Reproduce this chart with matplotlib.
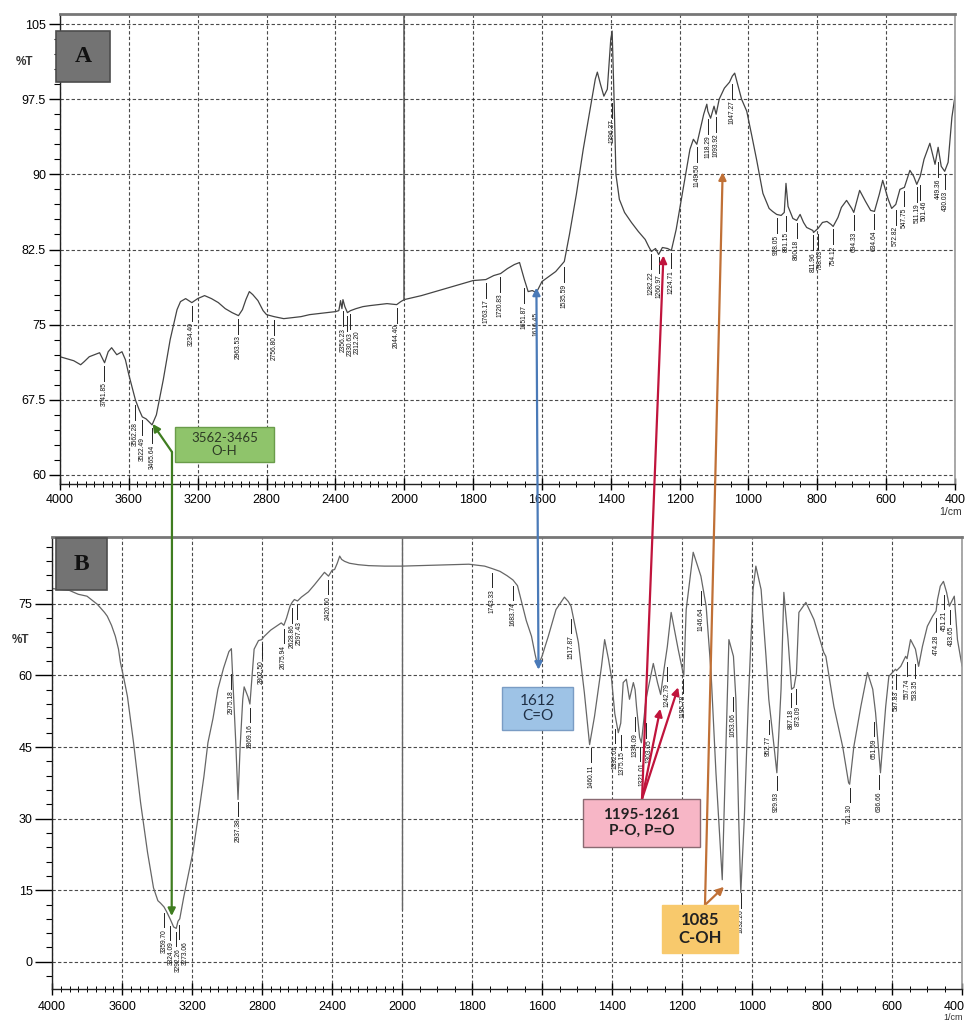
import numpy as np
import matplotlib.pyplot as plt
from matplotlib.patches import ConnectionPatch, Rectangle
from matplotlib.ticker import FixedLocator, FormatStrFormatter
from matplotlib.transforms import ScaledTranslation

plt.rcParams['font.family'] = ['Liberation Sans', 'DejaVu Sans']

W, H = 969, 1023

# ---- spectrum A (wavenumber 1/cm, %T) ----
wn_a = [4000, 3960, 3920, 3880, 3860, 3830, 3800, 3770, 3741, 3720, 3700, 3670, 3640, 3620,
        3600, 3562, 3540, 3522, 3500, 3465, 3440, 3400, 3360, 3320, 3300, 3270, 3234, 3200,
        3160, 3120, 3080, 3040, 3000, 2963, 2940, 2920, 2900, 2880, 2850, 2820, 2800, 2756,
        2700, 2650, 2600, 2550, 2500, 2450, 2400, 2380, 2370, 2362, 2356, 2345, 2330, 2312,
        2280, 2240, 2200, 2150, 2100, 2044, 2020, 2000, 1950, 1900, 1850, 1800, 1763, 1740,
        1720, 1700, 1680, 1665, 1651, 1640, 1628, 1616, 1600, 1580, 1560, 1535, 1520, 1500,
        1480, 1460, 1445, 1439, 1430, 1420, 1410, 1400, 1396, 1390, 1385, 1375, 1360, 1340,
        1320, 1300, 1290, 1282, 1270, 1261, 1250, 1235, 1224, 1210, 1195, 1180, 1170, 1160,
        1150, 1140, 1130, 1121, 1118, 1110, 1100, 1094, 1085, 1070, 1055, 1047, 1040, 1030,
        1020, 1005, 990, 976, 958, 940, 930, 918, 905, 896, 891, 885, 871, 860, 850, 840,
        831, 813, 811, 798, 785, 772, 760, 754, 740, 730, 715, 700, 694, 680, 677, 660, 645,
        634, 620, 610, 595, 584, 572, 560, 547, 531, 520, 511, 501, 490, 473, 458, 449, 440,
        430, 420, 409, 400]
t_a = [71.8, 71.6, 71.4, 71.0, 71.3, 71.8, 72.0, 72.2, 71.2, 72.3, 72.7, 72.0, 72.3, 71.5,
       70.0, 67.5, 66.5, 65.8, 65.6, 65.0, 66.0, 69.5, 73.5, 76.5, 77.3, 77.6, 77.2, 77.6,
       77.9, 77.6, 77.2, 76.6, 76.2, 75.9, 76.5, 77.5, 78.3, 78.0, 77.4, 76.4, 76.0, 75.8,
       75.6, 75.7, 75.8, 76.0, 76.1, 76.2, 76.3, 76.4, 77.4, 76.6, 77.5, 76.8, 76.2, 76.4,
       76.6, 76.8, 76.9, 77.0, 77.1, 77.0, 77.3, 77.5, 77.9, 78.4, 78.9, 79.4, 79.5, 79.9,
       80.1, 80.6, 81.0, 81.2, 79.5, 78.3, 78.4, 78.2, 79.3, 79.8, 80.3, 81.3, 84.0, 88.0,
       92.5, 96.5, 99.5, 100.2, 99.0, 97.8, 98.5, 103.5, 104.3, 97.0, 90.0, 87.5, 86.2, 85.2,
       84.3, 83.5, 82.8, 82.3, 82.6, 82.0, 82.7, 82.6, 82.4, 84.5, 87.5, 90.5, 92.5, 93.5,
       93.0, 94.5, 96.0, 97.0, 96.3, 95.6, 96.8, 96.0, 97.5, 98.6, 99.2, 99.8, 100.1, 98.8,
       97.5, 96.3, 93.8, 91.4, 88.1, 86.6, 86.3, 86.0, 85.9, 86.2, 89.1, 86.8, 85.6, 85.4,
       86.0, 85.2, 84.7, 84.4, 84.2, 84.6, 85.2, 85.3, 85.0, 84.8, 85.7, 86.7, 87.4, 86.6,
       86.2, 88.0, 88.4, 87.3, 86.4, 86.3, 88.0, 89.4, 87.6, 86.6, 87.0, 88.5, 88.7, 90.4,
       89.8, 89.0, 89.8, 91.5, 93.1, 91.0, 92.7, 90.8, 90.3, 91.2, 95.7, 97.8]
peaks_a = ['3741.85', '3562.28', '3522.49', '3465.64', '3234.40', '2963.53', '2756.80',
           '2356.23', '2330.63', '2312.20', '2044.40', '1763.17', '1720.83', '1651.87',
           '1616.45', '1535.59', '1396.37', '1282.22', '1260.97', '1224.71', '1149.50',
           '1118.29', '1093.92', '1047.27', '918.05', '891.15', '860.18', '811.96', '798.63',
           '754.12', '694.33', '634.64', '572.82', '547.75', '511.19', '501.46', '449.36',
           '430.03']

# ---- spectrum B ----
wn_b = [4000, 3950, 3900, 3850, 3800, 3741, 3700, 3684, 3660, 3638, 3620, 3609, 3590, 3569,
        3534, 3494, 3454, 3420, 3395, 3380, 3360, 3345, 3324, 3305, 3290, 3280, 3270, 3247,
        3195, 3161, 3132, 3109, 3080, 3052, 3020, 2989, 2975, 2966, 2950, 2937, 2925, 2910,
        2902, 2880, 2869, 2845, 2820, 2802, 2787, 2750, 2718, 2690, 2675, 2660, 2640, 2628,
        2615, 2597, 2575, 2535, 2500, 2443, 2420, 2400, 2385, 2370, 2356, 2345, 2328, 2300,
        2250, 2190, 2100, 2000, 1900, 1809, 1764, 1743, 1720, 1700, 1683, 1670, 1658, 1645,
        1630, 1620, 1612, 1600, 1582, 1560, 1536, 1525, 1517, 1496, 1479, 1464, 1450, 1430,
        1421, 1410, 1402, 1396, 1392, 1382, 1375, 1368, 1359, 1350, 1339, 1334, 1330, 1321,
        1316, 1303, 1282, 1270, 1261, 1250, 1242, 1231, 1211, 1195, 1188, 1168, 1160, 1146,
        1131, 1117, 1103, 1085, 1074, 1066, 1053, 1046, 1038, 1032, 1022, 1011, 997, 989,
        974, 960, 952, 937, 929, 917, 909, 897, 887, 880, 873, 866, 846, 823, 795, 789, 766,
        741, 724, 721, 709, 689, 670, 655, 647, 640, 633, 618, 609, 590, 587, 575, 561, 557,
        547, 533, 524, 513, 499, 484, 474, 470, 462, 453, 444, 436, 433, 422, 413, 400]
t_b = [78.2, 78.0, 77.8, 77.0, 76.6, 74.9, 73.2, 72.4, 70.5, 68.2, 65.5, 62.7, 59.5, 55.6,
       45.9, 33.4, 22.9, 15.5, 12.8, 12.3, 11.5, 10.5, 8.9, 7.3, 7.0, 8.5, 9.0, 13.6,
       22.9, 31.3, 38.8, 45.9, 51.0, 57.1, 61.5, 65.0, 65.6, 58.5, 46.0, 34.0, 45.0, 55.0,
       57.6, 55.5, 54.0, 65.5, 67.3, 67.5, 68.2, 69.5, 70.3, 71.0, 70.5, 72.0, 74.5, 75.3,
       75.9, 75.6, 76.4, 77.5, 79.0, 81.6, 80.8, 82.0, 82.2, 83.5, 85.0, 84.3, 83.9, 83.5,
       83.2, 83.0, 82.9, 82.9, 83.1, 83.3, 82.9, 82.4, 81.8, 80.9, 80.0, 78.8, 75.3, 71.5,
       68.2, 64.5, 61.9, 64.0, 68.2, 73.8, 76.4, 75.5, 74.5, 66.9, 56.4, 45.5, 51.4, 61.9,
       67.5, 63.4, 59.8, 55.0, 52.0, 48.0, 50.0, 58.5, 59.2, 55.0, 58.5, 57.0, 53.5, 47.0,
       45.9, 55.0, 62.5, 58.5, 56.0, 62.0, 66.0, 73.2, 65.5, 59.8, 73.8, 85.8, 84.0, 80.8,
       74.5, 60.6, 39.6, 17.2, 46.6, 67.5, 64.0, 55.0, 30.0, 14.5, 30.0, 53.5, 78.0, 82.9,
       78.0, 64.0, 55.0, 45.1, 39.6, 57.1, 77.4, 67.5, 57.1, 57.5, 60.5, 73.2, 75.3, 71.7,
       64.8, 64.0, 53.5, 45.1, 37.5, 37.2, 45.1, 53.5, 60.6, 57.1, 52.2, 46.0, 39.6, 53.5,
       59.8, 61.3, 61.0, 61.9, 64.0, 63.5, 67.5, 65.5, 61.9, 66.1, 70.3, 72.4, 73.5, 75.9,
       78.7, 79.7, 77.4, 74.5, 75.0, 76.6, 67.5, 62.0]
peaks_b = ['3359.70', '3324.09', '3292.26', '3273.06', '2975.18', '2937.38', '2869.16',
           '2802.50', '2675.94', '2628.86', '2597.43', '2420.50', '1743.33', '1683.74',
           '1517.87', '1460.11', '1392.01', '1375.15', '1334.09', '1321.01', '1303.05',
           '1242.79', '1195.78', '1146.64', '1053.06', '1032.26', '952.77', '929.93',
           '887.18', '873.09', '721.30', '651.69', '636.66', '587.83', '557.74', '533.35',
           '474.28', '451.21', '433.65']

x_ticks = [4000, 3600, 3200, 2800, 2400, 2000, 1800, 1600, 1400, 1200, 1000, 800, 600, 400]
y_ticks_a = [60, 67.5, 75, 82.5, 90, 97.5, 105]
y_ticks_b = [0, 15, 30, 45, 60, 75]


# wavenumbers below 2000 get twice the width of those above it
def fwd(w):
    w = np.asarray(w, dtype=float)
    return np.where(w > 2000, 2000 + (w - 2000) / 2, w)


def inv(u):
    u = np.asarray(u, dtype=float)
    return np.where(u > 2000, 2000 + (u - 2000) * 2, u)


def px(x, y):
    return x / W, 1 - y / H


fig = plt.figure(figsize=(W / 100, H / 100), dpi=100)
ax_a = fig.add_axes([60 / W, (H - 484) / H, 895 / W, 470 / H])
ax_b = fig.add_axes([52 / W, (H - 989) / H, 910 / W, 452 / H])


def setup(ax, ylim, yticks, ymin_step, tick_len, xpad):
    ax.set_xscale('function', functions=(fwd, inv))
    ax.set_xlim(4000, 400)
    ax.set_ylim(*ylim)
    ax.xaxis.set_major_locator(FixedLocator(x_ticks))
    ax.xaxis.set_minor_locator(FixedLocator(np.arange(400, 4001, 50)))
    ax.yaxis.set_major_locator(FixedLocator(yticks))
    ax.yaxis.set_minor_locator(FixedLocator(np.arange(yticks[0] - 6 * ymin_step,
                                                      ylim[1], ymin_step)))
    ax.yaxis.set_major_formatter(FormatStrFormatter('%g'))
    ax.xaxis.set_major_formatter(FormatStrFormatter('%d'))
    ax.grid(True, which='major', linestyle=(0, (3, 2)), color='#2a2a2a', lw=0.8, alpha=0.85)
    ax.tick_params(axis='y', which='major', length=tick_len, width=1, pad=2, labelsize=9,
                   direction='out')
    ax.tick_params(axis='y', which='minor', length=4, width=0.8, direction='out')
    ax.tick_params(axis='x', which='major', length=8, width=1, pad=xpad, labelsize=9,
                   direction='inout')
    ax.tick_params(axis='x', which='minor', length=4, width=0.7, direction='inout')
    for s in ('left', 'bottom'):
        ax.spines[s].set_color('#222')
        ax.spines[s].set_linewidth(1.0)
    ax.spines['top'].set_color('#777')
    ax.spines['top'].set_linewidth(2.0)
    ax.spines['right'].set_color('#999')
    ax.spines['right'].set_linewidth(1.2)


def label_peaks(ax, wn, t, peaks, gap, tick_len, fs, ppu):
    w = np.array(wn)[::-1]
    v = np.array(t)[::-1]
    txt_len = 27 / ppu
    placed = []
    for p in peaks:
        x = float(p)
        top = np.interp(np.linspace(x - 6, x + 6, 13), w, v).min() - gap
        bottom = top - tick_len - txt_len
        ax.plot([x, x], [top, top - tick_len], color='#222', lw=0.7)
        # nudge the number sideways when it would sit on a neighbour
        xp = ax.transData.transform((x, top))[0]
        for xq, lo, hi in placed:
            if xp - xq < 7 and top > lo and bottom < hi:
                xp = xq + 7
        placed.append((xp, bottom, top))
        xt = ax.transData.inverted().transform((xp, 0))[0]
        ax.text(xt, top - tick_len - gap * 0.5, p, rotation=90, ha='center', va='top',
                fontsize=fs, color='#111')


setup(ax_a, (59.1, 106), y_ticks_a, 1.5, 8, 3)
setup(ax_b, (-5.7, 89), y_ticks_b, 3, 12, 5)

# last tick label of the lower panel sits tight against the figure edge
last = ax_b.get_xticklabels()[-1]
last.set_transform(last.get_transform() + ScaledTranslation(-0.08, 0, fig.dpi_scale_trans))

ax_a.plot(wn_a, t_a, color='#444', lw=0.9)
ax_b.plot(wn_b, t_b, color='#666', lw=0.9)
ax_a.plot([2000, 2000], [106, 77.5], color='#555', lw=1.1)
ax_b.plot([2000, 2000], [89, 11], color='#666', lw=1.0)

label_peaks(ax_a, wn_a, t_a, peaks_a, 0.3, 1.5, 4.8, 10.02)
label_peaks(ax_b, wn_b, t_b, peaks_b, 0.8, 3.0, 4.8, 4.767)

ax_a.text(-0.03, 101.2, '%T', transform=ax_a.get_yaxis_transform(), ha='right',
          va='center', fontsize=8.5, fontweight='bold', color='#333')
ax_b.text(-0.025, 67.5, '%T', transform=ax_b.get_yaxis_transform(), ha='right',
          va='center', fontsize=8.5, fontweight='bold', color='#333')
fig.text(*px(951, 512), '1/cm', ha='center', va='center', fontsize=7.5, color='#333')
fig.text(*px(953, 1017), '1/cm', ha='center', va='center', fontsize=6.5, color='#333')

# panel tags
for tag, (x0, y0, x1, y1) in (('A', (56, 31, 110, 82)), ('B', (56, 538, 107, 590))):
    fx, fy = px(x0, y1)
    fig.add_artist(Rectangle((fx, fy), (x1 - x0) / W, (y1 - y0) / H, transform=fig.transFigure,
                             facecolor='#737373', edgecolor='#4d4d4d', lw=1.2, zorder=5))
    fig.text(*px((x0 + x1) / 2, (y0 + y1) / 2), tag, ha='center', va='center', fontsize=17,
             fontweight='bold', family='Liberation Serif', color='#111', zorder=6)


def tag_box(x0, y0, x1, y1, face, edge, lines, color, bold, size):
    fx, fy = px(x0, y1)
    fig.add_artist(Rectangle((fx, fy), (x1 - x0) / W, (y1 - y0) / H, transform=fig.transFigure,
                             facecolor=face, edgecolor=edge, lw=1.0, zorder=5))
    fig.text(*px((x0 + x1) / 2, (y0 + y1) / 2), lines, ha='center', va='center',
             fontsize=size, fontweight='bold' if bold else 'normal', family='Lato',
             color=color, linespacing=1.15, zorder=6)


def arrow(xy_from, c_from, xy_to, c_to, color, style='-|>', lw=1.6):
    con = ConnectionPatch(xyA=xy_from, coordsA=c_from, xyB=xy_to, coordsB=c_to,
                          arrowstyle=style, color=color, lw=lw, mutation_scale=11, zorder=4)
    fig.add_artist(con)


ff = 'figure fraction'
# O-H
arrow(px(172, 452), ff, (3462, 65.1), ax_a.transData, '#3f7d20')
arrow(px(172, 452), ff, (3316, 9.6), ax_b.transData, '#3f7d20')
tag_box(175, 427, 274, 462, '#8fc46b', '#6a9c4a', '3562-3465\nO-H', '#2d3a25', False, 9.5)
# C=O
arrow((1610, 61.2), ax_b.transData, (1616, 78.7), ax_a.transData, '#4a7ab8', '<|-|>')
tag_box(502, 687, 573, 730, '#9ec3e6', '#7a9cc4', '1612\nC=O', '#1f2f45', False, 11)
# P-O, P=O
for tip, tr in (((1247, 81.9), ax_a.transData), ((1262, 53.0), ax_b.transData),
                ((1211, 57.5), ax_b.transData)):
    arrow(px(642, 799), ff, tip, tr, '#c0143c')
tag_box(583, 799, 700, 847, '#f7b6c6', '#8a6a72', '1195-1261\nP-O, P=O', '#222', True, 11)
# C-OH
arrow(px(705, 905), ff, (1075, 90.2), ax_a.transData, '#c07036')
arrow(px(705, 905), ff, (1080, 15.7), ax_b.transData, '#c07036')
tag_box(662, 905, 738, 953, '#f8c96c', '#f8c96c', '1085\nC-OH', '#222', True, 12)

fig.savefig('out.png', dpi=100)
